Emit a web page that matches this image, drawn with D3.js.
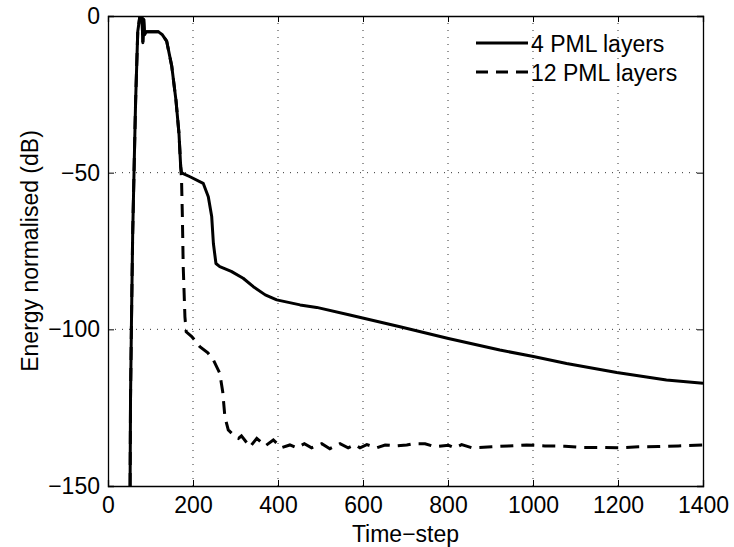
<!DOCTYPE html>
<html>
<head>
<meta charset="utf-8">
<script src="https://cdn.jsdelivr.net/npm/d3@7"></script>
<style>
  body { margin: 0; background: #fff; }
  text { font-family: "Liberation Sans", Arial, Helvetica, sans-serif; fill: #000; }
</style>
</head>
<body>
<script>
const width = 734;
const height = 547;

// tick values
const xTicks = [0, 200, 400, 600, 800, 1000, 1200, 1400];
const yTicks = [-150, -100, -50, 0];

// 4 PML layers (solid)
const timeSolid = [52, 53, 55, 58, 62, 65, 70, 75, 78, 80, 82, 84, 86, 90, 100, 118, 128, 138, 150, 160, 167, 171, 173,
  177, 193, 224, 236, 244, 248, 254, 263, 290, 318, 342, 370, 397, 452, 491, 569, 687, 801, 922, 1001, 1079, 1197, 1314, 1400];
const energySolid = [-150, -122, -100, -70, -45, -27, -5, 0, -1, 0, -8.5, -1, -6, -5, -5, -5, -6, -8, -16, -27, -37.5, -48, -50,
  -50.3, -51.3, -53.4, -57.7, -64, -72.6, -79, -80, -81.5, -83.7, -86.4, -89, -90.6, -92.2, -93, -95.4, -99.2, -102.9, -106.6, -108.7, -110.9, -113.8, -116.2, -117.2];

// 12 PML layers (dashed), same as solid until the first reflection
const timeDashed = [52, 53, 55, 58, 62, 65, 70, 75, 78, 80, 82, 84, 86, 90, 100, 118, 128, 138, 150, 160, 167, 171,
  173, 175, 177, 181, 184, 197, 216, 235, 248, 263, 270, 275, 283, 295, 307, 314, 334, 350, 370, 389, 408, 428, 444, 462,
  479, 503, 522, 546, 565, 581, 593, 609, 632, 652, 680, 703, 718, 746, 769, 801, 816, 832, 856, 903, 942, 985, 1028,
  1075, 1115, 1154, 1201, 1248, 1295, 1342, 1400];
const energyDashed = [-150, -122, -100, -70, -45, -27, -5, 0, -1, 0, -8.5, -1, -6, -5, -5, -5, -6, -8, -16, -27, -37.5, -48,
  -52, -64, -80, -96, -100.8, -102.3, -105.5, -107.5, -109.8, -114, -120, -127.9, -132.1, -133.7, -134.8, -134, -137.5, -134.8, -137.2, -135.3, -137.8, -136.9, -137.8, -136.5,
  -137.8, -136.5, -138.1, -136.5, -137.8, -136.8, -137.8, -136.8, -137.8, -136.9, -137.2, -136.9, -136.5, -136.5, -137.5, -137, -137.8, -136.8, -137.8, -137.5, -137.2, -136.9, -137.2,
  -137.3, -137.7, -137.7, -137.8, -137.5, -137.4, -137.2, -136.9];

const seriesNames = ["4 PML layers", "12 PML layers"];

const margin = { top: 16, right: 31, bottom: 61, left: 108 };
const plotW = width - margin.left - margin.right;
const plotH = height - margin.top - margin.bottom;

const svg = d3.select("body").append("svg").attr("width", width).attr("height", height);

const g = svg.append("g").attr("transform", `translate(${margin.left},${margin.top})`);

const xScale = d3.scaleLinear().domain([0, 1400]).range([0, plotW]);
const yScale = d3.scaleLinear().domain([-150, 0]).range([plotH, 0]);

// plain integers, real minus sign
const fmt = (d) => (d < 0 ? "\u2212" + Math.abs(d) : String(d));

// dotted grid
g.append("g")
  .selectAll("line")
  .data(xTicks.slice(1, -1))
  .join("line")
  .attr("x1", (d) => xScale(d)).attr("x2", (d) => xScale(d))
  .attr("y1", 0).attr("y2", plotH)
  .attr("stroke", "#333").attr("stroke-width", 1).attr("stroke-dasharray", "1,6");

g.append("g")
  .selectAll("line")
  .data(yTicks.slice(1, -1))
  .join("line")
  .attr("x1", 0).attr("x2", plotW)
  .attr("y1", (d) => yScale(d)).attr("y2", (d) => yScale(d))
  .attr("stroke", "#333").attr("stroke-width", 1).attr("stroke-dasharray", "1,6");

// clip for the curves
svg.append("defs").append("clipPath").attr("id", "clip")
  .append("rect").attr("width", plotW).attr("height", plotH);

const line = d3.line()
  .x((d) => xScale(d[0]))
  .y((d) => yScale(d[1]));

const plot = g.append("g").attr("clip-path", "url(#clip)");

plot.append("path")
  .datum(d3.zip(timeDashed, energyDashed))
  .attr("d", line)
  .attr("fill", "none")
  .attr("stroke", "#000")
  .attr("stroke-width", 3)
  .attr("stroke-dasharray", "13,8");

plot.append("path")
  .datum(d3.zip(timeSolid, energySolid))
  .attr("d", line)
  .attr("fill", "none")
  .attr("stroke", "#000")
  .attr("stroke-width", 3)
  .attr("stroke-linejoin", "round");

// axes, ticks pointing inward on all four sides
const tick = 6;
g.append("g").attr("transform", `translate(0,${plotH})`)
  .call(d3.axisBottom(xScale).tickValues(xTicks).tickSize(-tick).tickPadding(11).tickFormat(fmt));
g.append("g")
  .call(d3.axisTop(xScale).tickValues(xTicks).tickSize(-tick).tickFormat(""));
g.append("g")
  .call(d3.axisLeft(yScale).tickValues(yTicks).tickSize(-tick).tickPadding(8).tickFormat(fmt));
g.append("g").attr("transform", `translate(${plotW},0)`)
  .call(d3.axisRight(yScale).tickValues(yTicks).tickSize(-tick).tickFormat(""));

g.selectAll(".domain").attr("stroke", "#000").attr("stroke-width", 1.3);
g.selectAll(".tick line").attr("stroke", "#000").attr("stroke-width", 1);
g.selectAll(".tick text").attr("font-size", 23).attr("font-family", null).attr("fill", "#000");

// axis titles
svg.append("text")
  .attr("x", margin.left + plotW / 2)
  .attr("y", 542)
  .attr("text-anchor", "middle")
  .attr("font-size", 23)
  .text("Time\u2212step");

svg.append("text")
  .attr("transform", `translate(38,${margin.top + plotH / 2}) rotate(-90)`)
  .attr("text-anchor", "middle")
  .attr("font-size", 23)
  .text("Energy normalised (dB)");

// legend (no box)
const legend = svg.append("g");
const legendY = [43, 72];
const dashes = [null, "12,8"];
seriesNames.forEach((name, i) => {
  legend.append("line")
    .attr("x1", 476).attr("x2", 528)
    .attr("y1", legendY[i]).attr("y2", legendY[i])
    .attr("stroke", "#000").attr("stroke-width", 3)
    .attr("stroke-dasharray", dashes[i]);
  legend.append("text")
    .attr("x", 531).attr("y", legendY[i] + 8.5)
    .attr("font-size", 23)
    .text(name);
});
</script>
</body>
</html>
